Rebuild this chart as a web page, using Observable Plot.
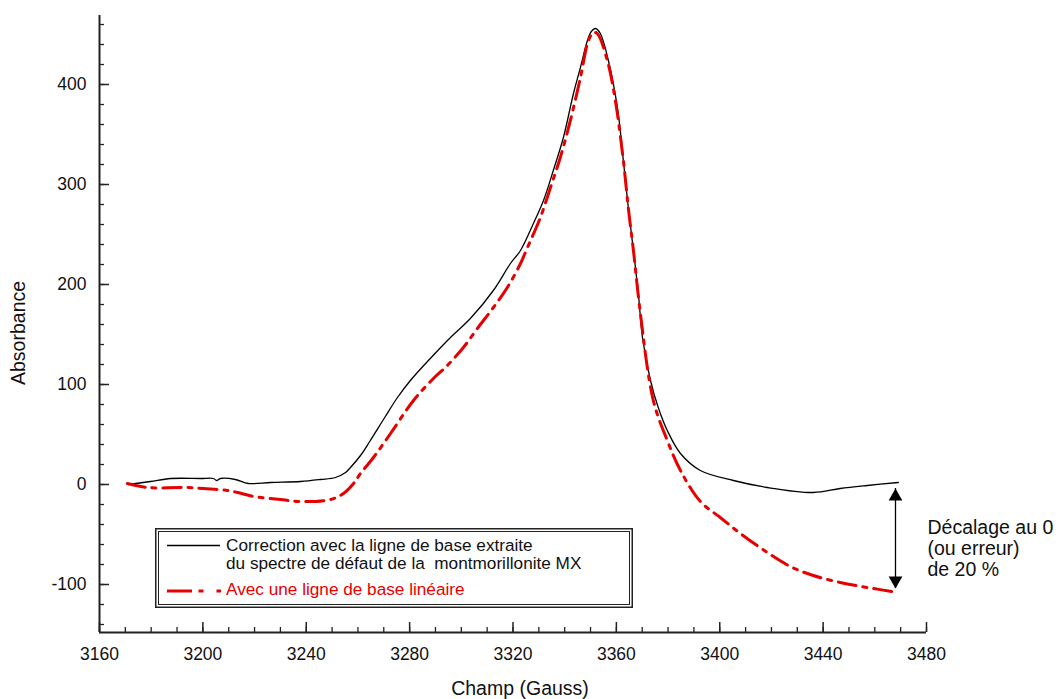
<!DOCTYPE html>
<html>
<head>
<meta charset="utf-8">
<script src="https://cdn.jsdelivr.net/npm/d3@7"></script>
<script src="https://cdn.jsdelivr.net/npm/@observablehq/plot@0.6"></script>
<style>
  html, body { margin: 0; padding: 0; background: #fff; }
  #wrap { position: relative; width: 1059px; height: 699px; font-family: "Liberation Sans", Arial, sans-serif; }
  #legend { position: absolute; left: 155px; top: 528px; }
</style>
</head>
<body>
<div id="wrap">
  <div id="chart"></div>
  <svg id="legend" width="479" height="82"></svg>
</div>
<script>
// ---- data ----
const xDomain = [3160, 3480];
const yDomain = [-148, 469];
const xMajorTicks = [3160, 3200, 3240, 3280, 3320, 3360, 3400, 3440, 3480];
const xMinorTicks = d3.range(3160, 3481, 10);
const yMajorTicks = [-100, 0, 100, 200, 300, 400];
const yMinorTicks = d3.range(-140, 461, 20);

const blackX = [3171.2,3179.7,3187.5,3199.1,3204.1,3205.3,3206.8,3212.6,3217.6,3226.2,3237.8,3245.5,3251.3,3255.2,3257.1,3261.0,3264.8,3270.6,3275.3,3280.3,3288.0,3295.8,3303.5,3312.4,3319.0,3322.9,3327.9,3331.8,3335.6,3339.5,3343.4,3346.1,3348.8,3350.3,3351.9,3353.8,3356.9,3360.4,3362.7,3364.6,3366.6,3368.5,3370.1,3373.2,3376.2,3379.7,3384.8,3392.5,3405.3,3418.4,3436.2,3446.6,3457.1,3469.1];
const blackY = [0,3,6,6,6,4,6,5,1,2,3,5,7,12,17,29,44,68,87,104,126,147,166,194,221,234,261,284,314,347,391,417,444,453,456,451,424,377,324,277,234,191,147,104,77,54,31,14,4,-3,-8,-4,-1,2];

const redX = [3170.8,3178.6,3194.0,3200.2,3209.5,3213.4,3219.6,3230.0,3237.8,3249.4,3254.4,3258.3,3261.0,3266.0,3272.6,3281.5,3289.2,3294.6,3300.8,3306.2,3312.4,3317.8,3322.9,3325.6,3330.6,3334.5,3338.3,3342.2,3346.1,3349.2,3351.1,3352.6,3356.5,3359.6,3362.7,3364.6,3366.6,3369.3,3374.3,3379.7,3384.8,3392.5,3400.2,3408.0,3418.4,3427.3,3436.2,3446.6,3457.1,3469.1];
const redY = [1,-3,-3,-4,-6,-8,-12,-15,-17,-15,-9,1,11,27,51,84,106,119,137,156,177,197,221,237,267,297,327,364,407,444,452,451,424,384,324,277,234,171,84,44,14,-17,-33,-49,-68,-82,-91,-98,-103,-108];

const seriesLabels = [
  "Correction avec la ligne de base extraite\ndu spectre de défaut de la  montmorillonite MX",
  "Avec une ligne de base linéaire"
];
const offsetArrow = [{x: 3468, top: -4, bottom: -104}];
const offsetText = "Décalage au 0\n(ou erreur)\nde 20 %";
const xTitle = "Champ (Gauss)";
const yTitle = "Absorbance";

const black = blackX.map((x, i) => ({x, y: blackY[i]}));
const red = redX.map((x, i) => ({x, y: redY[i]}));
const RED = "#e60000";
const AX = "#222";

const chart = Plot.plot({
  width: 1059,
  height: 699,
  marginLeft: 99,
  marginRight: 133,
  marginTop: 15,
  marginBottom: 67,
  style: {fontFamily: "'Liberation Sans', Arial, sans-serif", fontSize: "17.5px", background: "white", overflow: "visible", color: "#111"},
  x: {domain: xDomain},
  y: {domain: yDomain},
  marks: [
    Plot.axisX({ticks: xMinorTicks, tickSize: -5, fill: "none", label: null, stroke: AX, strokeWidth: 1.3}),
    Plot.axisX({ticks: xMajorTicks, tickSize: -10, tickPadding: 25, tickFormat: d => String(d), label: null, stroke: AX, strokeWidth: 1.5}),
    Plot.axisY({ticks: yMinorTicks, tickSize: -5, fill: "none", label: null, stroke: AX, strokeWidth: 1.3}),
    Plot.axisY({ticks: yMajorTicks, tickSize: -10, tickPadding: 23, tickFormat: d => String(d), label: null, stroke: AX, strokeWidth: 1.5}),
    Plot.ruleX([xDomain[0]], {y1: yDomain[0], y2: yDomain[1], stroke: AX, strokeWidth: 2}),
    Plot.ruleY([yDomain[0]], {x1: xDomain[0], x2: xDomain[1], stroke: AX, strokeWidth: 2}),
    Plot.line(black, {x: "x", y: "y", stroke: "#000", strokeWidth: 1.3, curve: "catmull-rom"}),
    Plot.line(red, {x: "x", y: "y", stroke: RED, strokeWidth: 3, strokeDasharray: "18,7,4,7", curve: "catmull-rom"}),
    Plot.ruleX(offsetArrow, {x: "x", y1: "top", y2: "bottom", stroke: "#000", strokeWidth: 1.3}),
    Plot.dot(offsetArrow, {x: "x", y: "top", symbol: "triangle", r: 5.1, fill: "#000", stroke: null, dy: 8}),
    Plot.dot(offsetArrow, {x: "x", y: "bottom", symbol: "triangle", r: 5.1, fill: "#000", stroke: null, rotate: 180, dy: -8}),
    Plot.text([offsetText], {x: xDomain[1], y: -64, textAnchor: "start", lineAnchor: "middle", lineHeight: 1.08, fontSize: 19.5, dx: 1, fill: "#111"}),
    Plot.text([yTitle], {frameAnchor: "left", dx: -81, dy: 61, rotate: -90, fontSize: 19.5, fill: "#111"}),
    Plot.text([xTitle], {frameAnchor: "bottom", dx: 7, dy: 62, fontSize: 19.5, fill: "#111"})
  ]
});
document.getElementById("chart").appendChild(chart);

// ---- legend ----
const lg = d3.select("#legend").style("font-family", "'Liberation Sans', Arial, sans-serif");
lg.append("rect").attr("x", 0.75).attr("y", 0.75).attr("width", 476.5).attr("height", 78.5)
  .attr("fill", "white").attr("stroke", AX).attr("stroke-width", 1.5);
lg.append("rect").attr("x", 3.5).attr("y", 3.5).attr("width", 471).attr("height", 73)
  .attr("fill", "none").attr("stroke", AX).attr("stroke-width", 1);
lg.append("line").attr("x1", 12).attr("x2", 65).attr("y1", 17.5).attr("y2", 17.5)
  .attr("stroke", "#000").attr("stroke-width", 1.3);
const t1 = lg.append("text").attr("x", 71).attr("y", 23).attr("font-size", 17.2).attr("fill", "#111");
seriesLabels[0].split("\n").forEach((s, i) => {
  t1.append("tspan").attr("x", 71).attr("dy", i === 0 ? 0 : 17.5).attr("xml:space", "preserve").style("white-space", "pre").text(s);
});
lg.append("line").attr("x1", 12).attr("x2", 67).attr("y1", 63).attr("y2", 63)
  .attr("stroke", RED).attr("stroke-width", 3).attr("stroke-dasharray", "25 6.5 5 13 4.5 100");
lg.append("text").attr("x", 71).attr("y", 66.5).attr("font-size", 17.2).attr("fill", RED).text(seriesLabels[1]);
</script>
</body>
</html>
